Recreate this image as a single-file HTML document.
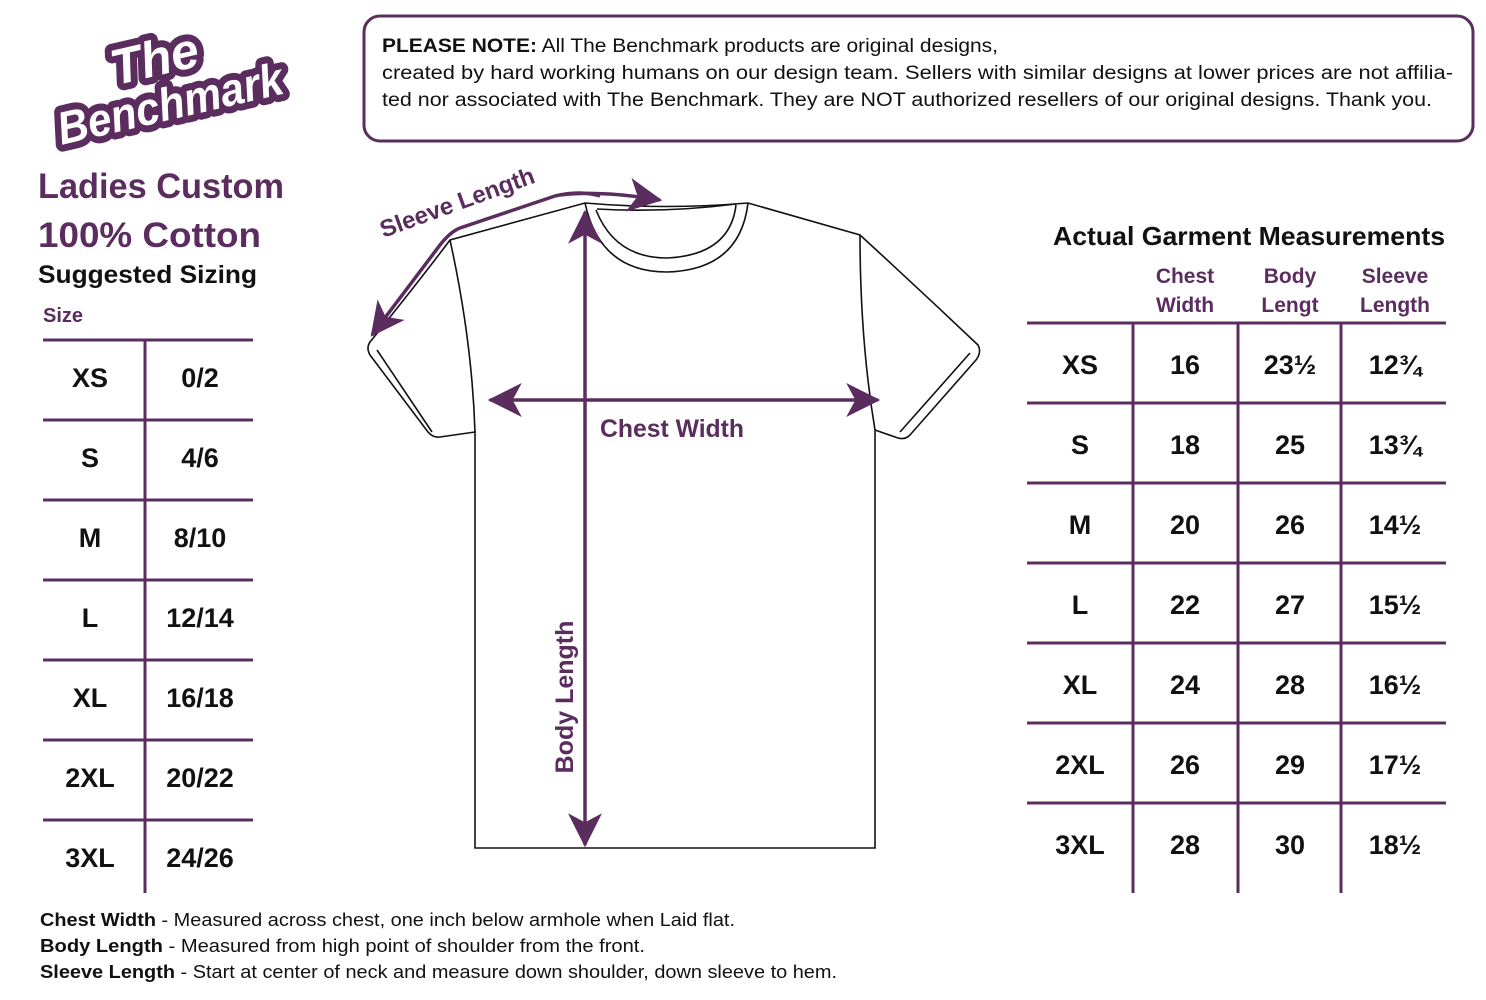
<!DOCTYPE html>
<html><head><meta charset="utf-8"><style>
html,body{margin:0;padding:0;background:#fff}
svg{display:block}
text{font-family:"Liberation Sans",sans-serif}
</style></head><body>
<svg width="1486" height="1000" viewBox="0 0 1486 1000" xmlns="http://www.w3.org/2000/svg">
<defs>
<marker id="ahb" viewBox="0 0 30 30" refX="28" refY="15" markerWidth="34" markerHeight="34" markerUnits="userSpaceOnUse" orient="auto"><path d="M0,0 L30,15 L0,30 L8,15 Z" fill="#5b2d5f"/></marker>
</defs>
<!-- logo -->
<g transform="translate(165,82) rotate(-13)">
<text x="-5" y="-8" text-anchor="middle" font-family="Liberation Serif,serif" font-style="italic" font-weight="bold" font-size="50" fill="#fff" stroke="#5b2d5f" stroke-width="14" stroke-linejoin="round" paint-order="stroke">The</text>
<text x="0" y="38" text-anchor="middle" font-family="Liberation Serif,serif" font-style="italic" font-weight="bold" font-size="46" fill="#fff" stroke="#5b2d5f" stroke-width="14" stroke-linejoin="round" paint-order="stroke" textLength="230" lengthAdjust="spacingAndGlyphs">Benchmark</text>
</g>
<!-- note box -->
<rect x="364" y="16" width="1109" height="125" rx="16" fill="none" stroke="#5b2d5f" stroke-width="3"/>
<g font-size="19" fill="#111">
<text x="382" y="52" textLength="616" lengthAdjust="spacingAndGlyphs"><tspan font-weight="bold">PLEASE NOTE:</tspan> All The Benchmark products are original designs,</text>
<text x="382" y="79" textLength="1071" lengthAdjust="spacingAndGlyphs">created by hard working humans on our design team. Sellers with similar designs at lower prices are not affilia-</text>
<text x="382" y="106" textLength="1050" lengthAdjust="spacingAndGlyphs">ted nor associated with The Benchmark. They are NOT authorized resellers of our original designs. Thank you.</text>
</g>
<!-- left headings -->
<text x="38" y="198" font-size="35" font-weight="bold" fill="#5b2d5f" textLength="246" lengthAdjust="spacingAndGlyphs">Ladies Custom</text>
<text x="38" y="247" font-size="35" font-weight="bold" fill="#5b2d5f" textLength="223" lengthAdjust="spacingAndGlyphs">100% Cotton</text>
<text x="38" y="283" font-size="25" font-weight="bold" fill="#111" textLength="219" lengthAdjust="spacingAndGlyphs">Suggested Sizing</text>
<text x="43" y="322" font-size="20" font-weight="bold" fill="#5b2d5f">Size</text>
<g stroke="#5b2d5f" stroke-width="3">
<line x1="43" y1="340" x2="253" y2="340"/><line x1="43" y1="420" x2="253" y2="420"/><line x1="43" y1="500" x2="253" y2="500"/><line x1="43" y1="580" x2="253" y2="580"/><line x1="43" y1="660" x2="253" y2="660"/><line x1="43" y1="740" x2="253" y2="740"/><line x1="43" y1="820" x2="253" y2="820"/>
<line x1="145" y1="340" x2="145" y2="893"/>
</g>
<g font-size="27" font-weight="bold" fill="#111" text-anchor="middle">
<text x="90" y="387">XS</text><text x="200" y="387">0/2</text>
<text x="90" y="467">S</text><text x="200" y="467">4/6</text>
<text x="90" y="547">M</text><text x="200" y="547">8/10</text>
<text x="90" y="627">L</text><text x="200" y="627">12/14</text>
<text x="90" y="707">XL</text><text x="200" y="707">16/18</text>
<text x="90" y="787">2XL</text><text x="200" y="787">20/22</text>
<text x="90" y="867">3XL</text><text x="200" y="867">24/26</text>
</g>
<!-- right table -->
<text x="1053" y="245" font-size="26" font-weight="bold" fill="#111" textLength="392" lengthAdjust="spacingAndGlyphs">Actual Garment Measurements</text>
<g font-size="21" font-weight="bold" fill="#5b2d5f" text-anchor="middle">
<text x="1185" y="283">Chest</text><text x="1185" y="312">Width</text>
<text x="1290" y="283">Body</text><text x="1290" y="312">Lengt</text>
<text x="1395" y="283">Sleeve</text><text x="1395" y="312">Length</text>
</g>
<g stroke="#5b2d5f" stroke-width="3">
<line x1="1027" y1="323" x2="1446" y2="323"/><line x1="1027" y1="403" x2="1446" y2="403"/><line x1="1027" y1="483" x2="1446" y2="483"/><line x1="1027" y1="563" x2="1446" y2="563"/><line x1="1027" y1="643" x2="1446" y2="643"/><line x1="1027" y1="723" x2="1446" y2="723"/><line x1="1027" y1="803" x2="1446" y2="803"/>
<line x1="1133" y1="323" x2="1133" y2="893"/><line x1="1238" y1="323" x2="1238" y2="893"/><line x1="1341" y1="323" x2="1341" y2="893"/>
</g>
<g font-size="27" font-weight="bold" fill="#111" text-anchor="middle">
<text x="1080" y="374">XS</text><text x="1185" y="374">16</text><text x="1290" y="374">23½</text><text x="1395" y="374">12¾</text>
<text x="1080" y="454">S</text><text x="1185" y="454">18</text><text x="1290" y="454">25</text><text x="1395" y="454">13¾</text>
<text x="1080" y="534">M</text><text x="1185" y="534">20</text><text x="1290" y="534">26</text><text x="1395" y="534">14½</text>
<text x="1080" y="614">L</text><text x="1185" y="614">22</text><text x="1290" y="614">27</text><text x="1395" y="614">15½</text>
<text x="1080" y="694">XL</text><text x="1185" y="694">24</text><text x="1290" y="694">28</text><text x="1395" y="694">16½</text>
<text x="1080" y="774">2XL</text><text x="1185" y="774">26</text><text x="1290" y="774">29</text><text x="1395" y="774">17½</text>
<text x="1080" y="854">3XL</text><text x="1185" y="854">28</text><text x="1290" y="854">30</text><text x="1395" y="854">18½</text>
</g>
<!-- t-shirt -->
<g fill="none" stroke="#111" stroke-width="1.6">
<path d="M585,203 Q665,210 748,203 L860,235 Q920,290 978,345 Q982,352 976,360 L910,435 Q905,440 898,438 L875,430 L875,848 L475,848 L475,432 L440,437 Q433,438 428,432 L370,355 Q366,348 370,342 Q420,280 450,240 L585,203 Z"/>
<path d="M585,203 Q600,272 667,272 Q740,270 748,203"/>
<path d="M596,210 Q615,258 667,258 Q730,255 736,205"/>
<path d="M597,209 Q665,213 736,204"/>
<path d="M450,240 Q472,340 475,432"/>
<path d="M860,235 Q860,340 875,430"/>
<path d="M377,350 L432,432"/>
<path d="M970,353 L900,432"/>
</g>
<!-- arrows -->
<g stroke="#5b2d5f" stroke-width="3.5" fill="none">
<line x1="585" y1="400" x2="585" y2="212" marker-end="url(#ahb)"/>
<line x1="585" y1="400" x2="585" y2="845" marker-end="url(#ahb)"/>
<line x1="680" y1="400" x2="490" y2="400" marker-end="url(#ahb)"/>
<line x1="680" y1="400" x2="878" y2="400" marker-end="url(#ahb)"/>
<path d="M600,196 Q580,190 555,196 L460,228 Q450,232 440,245 L372,335" marker-end="url(#ahb)"/>
<path d="M560,195 Q600,190 660,200" marker-end="url(#ahb)"/>
</g>
<text x="600" y="437" font-size="25" font-weight="bold" fill="#5b2d5f" textLength="144" lengthAdjust="spacingAndGlyphs">Chest Width</text>
<text transform="translate(573,697) rotate(-90)" text-anchor="middle" font-size="25" font-weight="bold" fill="#5b2d5f">Body Length</text>
<text transform="translate(460,210) rotate(-20)" text-anchor="middle" font-size="24" font-weight="bold" fill="#5b2d5f">Sleeve Length</text>
<!-- footer -->
<g font-size="18" fill="#111">
<text x="40" y="926" textLength="695" lengthAdjust="spacingAndGlyphs"><tspan font-weight="bold">Chest Width</tspan> - Measured across chest, one inch below armhole  when Laid flat.</text>
<text x="40" y="952" textLength="605" lengthAdjust="spacingAndGlyphs"><tspan font-weight="bold">Body Length</tspan> - Measured from high point of shoulder from the front.</text>
<text x="40" y="978" textLength="797" lengthAdjust="spacingAndGlyphs"><tspan font-weight="bold">Sleeve Length</tspan> - Start  at center of neck and measure down shoulder, down sleeve to hem.</text>
</g>
</svg>
</body></html>
